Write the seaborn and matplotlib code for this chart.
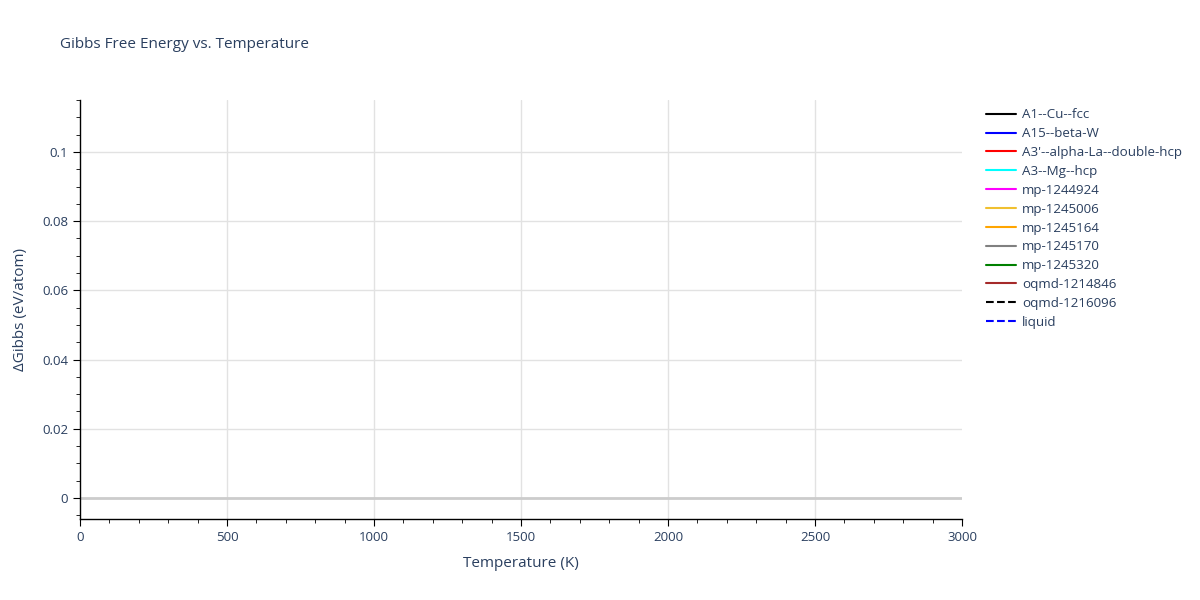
import matplotlib
matplotlib.use("Agg")
import matplotlib.pyplot as plt
from matplotlib.ticker import MultipleLocator, FixedLocator
from matplotlib.lines import Line2D
import seaborn as sns
import pandas as pd

# Data: phases listed in the legend; the chart carries no visible curves
phases = ['A1--Cu--fcc', 'A15--beta-W', "A3'--alpha-La--double-hcp", 'A3--Mg--hcp',
          'mp-1244924', 'mp-1245006', 'mp-1245164', 'mp-1245170', 'mp-1245320',
          'oqmd-1214846', 'oqmd-1216096', 'liquid']
colors = ['black', 'blue', 'red', 'cyan', 'magenta', '#f0c030', 'orange', 'gray',
          'green', 'brown', 'black', 'blue']
dashed = ['oqmd-1216096', 'liquid']
temperature = []
gibbs = []

sns.set_style("white")
plt.rcParams['font.family'] = ['Open Sans', 'DejaVu Sans']
text_col = '#2a3f5f'

fig = plt.figure(figsize=(12, 6), dpi=100)
ax = fig.add_axes([80 / 1200, 1 - 519 / 600, (962 - 80) / 1200, (519 - 100) / 600])

df = pd.DataFrame({'T': temperature, 'G': gibbs, 'phase': pd.Series([], dtype=str)})
for ph, c in zip(phases, colors):
    sub = df[df['phase'] == ph]
    ls = '--' if ph in dashed else '-'
    if len(sub):
        sns.lineplot(data=sub, x='T', y='G', color=c, linestyle=ls, ax=ax)

ax.set_xlim(0, 3000)
ax.set_ylim(-0.00607, 0.115)
ax.xaxis.set_major_locator(MultipleLocator(500))
ax.xaxis.set_minor_locator(MultipleLocator(100))
ax.yaxis.set_major_locator(MultipleLocator(0.02))
ax.yaxis.set_minor_locator(MultipleLocator(0.005))
ax.yaxis.set_major_formatter(plt.FuncFormatter(lambda v, p: '0' if abs(v) < 1e-9 else f'{v:g}'))

ax.grid(False)
for xv in range(500, 3000, 500):
    ax.axvline(xv, color='#e2e2e2', linewidth=1, zorder=0)
for yv in [0.02, 0.04, 0.06, 0.08, 0.1]:
    ax.axhline(yv, color='#e2e2e2', linewidth=1, zorder=0)
ax.axhline(0, color='#cccccc', linewidth=2, zorder=1)
for s in ['top', 'right']:
    ax.spines[s].set_visible(False)
for s in ['left', 'bottom']:
    ax.spines[s].set_color('black')
    ax.spines[s].set_linewidth(1)
ax.tick_params(which='major', direction='out', length=5, color='black', labelcolor=text_col, labelsize=9.5,
               left=True, bottom=True)
ax.tick_params(which='minor', direction='out', length=3, color='black', left=True, bottom=True)

ax.set_xlabel('Temperature (K)', color=text_col, fontsize=11, labelpad=9)
ax.set_ylabel('ΔGibbs (eV/atom)', color=text_col, fontsize=11, labelpad=10)
fig.text(60 / 1200, 1 - 45 / 600, 'Gibbs Free Energy vs. Temperature', color=text_col, fontsize=11, va='center')

handles = [Line2D([], [], color=c, linewidth=1.5, linestyle='--' if p in dashed else '-')
           for p, c in zip(phases, colors)]
leg = fig.legend(handles, phases, loc='upper left', bbox_to_anchor=(981 / 1200, 1 - 103 / 600),
                 frameon=False, fontsize=9.6, labelcolor=text_col, handlelength=2.2,
                 handletextpad=0.5, labelspacing=0.44, borderaxespad=0)

fig.savefig('out.png', dpi=100)
